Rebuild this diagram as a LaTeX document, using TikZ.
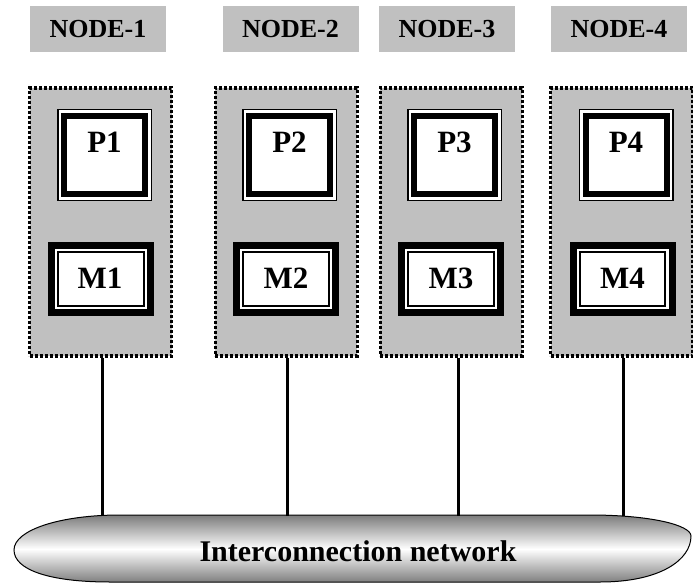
\documentclass[tikz,border=0pt]{standalone}
\usepackage{fontspec}
\setmainfont{Liberation Serif}
\definecolor{boxgray}{RGB}{192,192,192}
\begin{document}
\begin{tikzpicture}[x=1pt,y=-1pt,
  hdr/.style={fill=boxgray, minimum width=136pt, minimum height=46pt, inner sep=0pt,
    font=\fontsize{26}{30}\selectfont\bfseries},
  nodebox/.style={draw, fill=boxgray, line width=3.2pt, dash pattern=on 3pt off 2pt,
    minimum width=142pt, minimum height=268pt, inner sep=0pt},
  pbox/.style={draw, fill=white, line width=1.5pt, minimum width=93.5pt, minimum height=90.5pt,
    inner sep=0pt,
    path picture={\draw[line width=6pt]
      ([shift={(6.25pt,6.25pt)}]path picture bounding box.south west) rectangle
      ([shift={(-6.25pt,-6.25pt)}]path picture bounding box.north east);}},
  mbox/.style={draw, fill=white, line width=7pt, minimum width=99pt, minimum height=67pt,
    inner sep=0pt,
    path picture={\draw[line width=2pt]
      ([shift={(6.8pt,6.8pt)}]path picture bounding box.south west) rectangle
      ([shift={(-6.8pt,-6.8pt)}]path picture bounding box.north east);}},
  lbl/.style={anchor=base, inner sep=0pt, font=\fontsize{31}{35}\selectfont\bfseries},
  netlbl/.style={anchor=base, inner sep=0pt, font=\fontsize{30}{34}\selectfont\bfseries},
  link/.style={line width=3pt}
]
\useasboundingbox (0,0) rectangle (693,583);

% network shape: gradient built from thin strips clipped to the outline
\def\netpath{(14,550) .. controls (14,530) and (60,515) .. (120,515) -- (590,515)
  .. controls (650,515) and (691,525) .. (691,536)
  .. controls (691,560) and (660,582) .. (600,582) -- (110,582)
  .. controls (50,582) and (14,570) .. (14,550) -- cycle}
\begin{scope}
  \clip \netpath;
  \foreach \i in {0,...,70}{
    \pgfmathsetmacro{\ypix}{513+\i}
    \pgfmathsetmacro{\g}{min(50,50*abs((\ypix-549)/33))}
    \fill[black!\g] (0,\ypix) rectangle (693,\ypix+1.1);
  }
\end{scope}
\draw[line width=1pt] \netpath;
\node[netlbl] (net) at (358,561) {Interconnection network};

% headers
\node[hdr] (h1) at (98,29) {NODE-1};
\node[hdr] (h2) at (290.5,29) {NODE-2};
\node[hdr] (h3) at (447,29) {NODE-3};
\node[hdr] (h4) at (619,29) {NODE-4};

% node boxes
\node[nodebox] (b1) at (100.5,222) {};
\node[nodebox] (b2) at (286.25,222) {};
\node[nodebox] (b3) at (451.25,222) {};
\node[nodebox] (b4) at (621.75,222) {};

% processors
\node[pbox] (p1) at (104.5,155) {};
\node[pbox] (p2) at (289.5,155) {};
\node[pbox] (p3) at (454.5,155) {};
\node[pbox] (p4) at (626,155) {};
\node[lbl] (pt1) at (104.5,152.7) {P1};
\node[lbl] (pt2) at (289.5,152.7) {P2};
\node[lbl] (pt3) at (454.5,152.7) {P3};
\node[lbl] (pt4) at (626,152.7) {P4};

% memories
\node[mbox] (m1) at (101,279) {};
\node[mbox] (m2) at (286,279) {};
\node[mbox] (m3) at (451,279) {};
\node[mbox] (m4) at (622.5,279) {};
\node[lbl] (mt1) at (100,288.3) {M1};
\node[lbl] (mt2) at (286,288.3) {M2};
\node[lbl] (mt3) at (451,288.3) {M3};
\node[lbl] (mt4) at (622.5,288.3) {M4};

% links
\coordinate (e1) at (102,515.5);
\coordinate (e2) at (287,515.5);
\coordinate (e3) at (458,515.5);
\coordinate (e4) at (623,515.5);
\draw[link] (b1.south -| e1) -- (e1);
\draw[link] (b2.south -| e2) -- (e2);
\draw[link] (b3.south -| e3) -- (e3);
\draw[link] (b4.south -| e4) -- (e4);
\end{tikzpicture}
\end{document}
